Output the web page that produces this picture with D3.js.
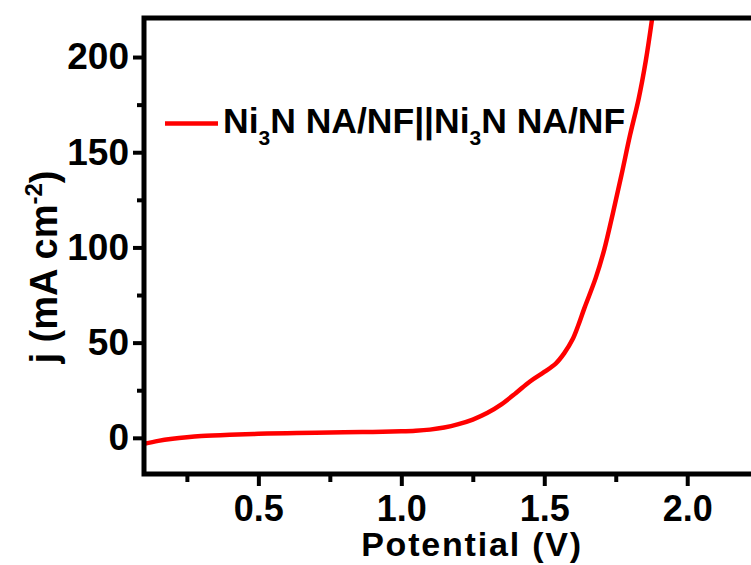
<!DOCTYPE html>
<html>
<head>
<meta charset="utf-8">
<script src="https://cdn.jsdelivr.net/npm/d3@7"></script>
<style>
  html, body { margin: 0; padding: 0; background: #fff; overflow: hidden; }
  svg { display: block; }
  text { font-family: "Liberation Sans", Arial, sans-serif; font-weight: bold; fill: #000; }
</style>
</head>
<body>
<svg id="chart" width="751" height="565"></svg>
<script>
// Polarization curve of the two-electrode Ni3N NA/NF || Ni3N NA/NF cell
const potential = [0.10, 0.15, 0.20, 0.25, 0.30, 0.40, 0.50, 0.60, 0.70, 0.80, 0.90, 1.00,
  1.05, 1.10, 1.15, 1.20, 1.25, 1.30, 1.35, 1.40, 1.45, 1.50, 1.54, 1.57, 1.60,
  1.62, 1.64, 1.68, 1.71, 1.74, 1.77, 1.80, 1.83, 1.855, 1.877];
const currentDensity = [-3.2, -1.6, -0.5, 0.3, 0.9, 1.6, 2.1, 2.4, 2.7, 2.9, 3.1, 3.4,
  3.7, 4.3, 5.4, 7.2, 9.6, 13.0, 17.6, 23.4, 29.6, 34.6, 39.0, 44.5, 52.0,
  59.5, 68.0, 84.0, 99.0, 118.0, 138.0, 159.0, 178.0, 198.0, 220.0];

const xMajorTicks = [0.5, 1.0, 1.5, 2.0];
const xMinorTicks = [0.25, 0.75, 1.25, 1.75, 2.25];
const yMajorTicks = [0, 50, 100, 150, 200];
const yMinorTicks = [25, 75, 125, 175];

const seriesName = ["Ni", "3", "N NA/NF||Ni", "3", "N NA/NF"];
const xTitle = "Potential (V)";

const svg = d3.select("#chart");
const plotLeft = 144, plotTop = 18, plotBottom = 474, plotRight = 773;

const x = d3.scaleLinear().domain([0.1, 2.3]).range([plotLeft, plotRight]);
const y = d3.scaleLinear().domain([-19, 220.5]).range([plotBottom, plotTop]);

const axisW = 5;

// clip for the curve
svg.append("defs").append("clipPath").attr("id", "plotClip")
  .append("rect").attr("x", plotLeft).attr("y", plotTop)
  .attr("width", plotRight - plotLeft).attr("height", plotBottom - plotTop);

// curve
const data = potential.map((v, i) => ({ v, j: currentDensity[i] }));
const line = d3.line().x(d => x(d.v)).y(d => y(d.j)).curve(d3.curveCatmullRom.alpha(0.5));
svg.append("path").datum(data)
  .attr("clip-path", "url(#plotClip)")
  .attr("d", line)
  .attr("fill", "none").attr("stroke", "#ff0000").attr("stroke-width", 4.5)
  .attr("stroke-linejoin", "round");

// x axis
const xAxis = d3.axisBottom(x).tickValues(xMajorTicks).tickFormat(d3.format(".1f"))
  .tickSize(12).tickSizeOuter(0).tickPadding(9);
const gx = svg.append("g").attr("transform", `translate(0,${plotBottom})`).call(xAxis);
gx.select(".domain").remove();
gx.selectAll(".tick line").attr("stroke", "#000").attr("stroke-width", 4);
gx.selectAll(".tick text").attr("font-size", 36).attr("font-family", "Liberation Sans, Arial, sans-serif").attr("font-weight", "bold");
const gxm = svg.append("g").attr("transform", `translate(0,${plotBottom})`)
  .call(d3.axisBottom(x).tickValues(xMinorTicks).tickFormat("").tickSize(8).tickSizeOuter(0));
gxm.select(".domain").remove();
gxm.selectAll(".tick line").attr("stroke", "#000").attr("stroke-width", 4);

// y axis
const yAxis = d3.axisLeft(y).tickValues(yMajorTicks).tickFormat(d3.format("d"))
  .tickSize(11).tickSizeOuter(0).tickPadding(4);
const gy = svg.append("g").attr("transform", `translate(${plotLeft},0)`).call(yAxis);
gy.select(".domain").remove();
gy.selectAll(".tick line").attr("stroke", "#000").attr("stroke-width", 4);
gy.selectAll(".tick text").attr("font-size", 37).attr("font-family", "Liberation Sans, Arial, sans-serif").attr("font-weight", "bold");
const gym = svg.append("g").attr("transform", `translate(${plotLeft},0)`)
  .call(d3.axisLeft(y).tickValues(yMinorTicks).tickFormat("").tickSize(7).tickSizeOuter(0));
gym.select(".domain").remove();
gym.selectAll(".tick line").attr("stroke", "#000").attr("stroke-width", 4);

// frame
svg.append("path")
  .attr("d", `M${plotLeft},${plotBottom}H${plotRight}V${plotTop}H${plotLeft}Z`)
  .attr("fill", "none").attr("stroke", "#000").attr("stroke-width", axisW)
  .attr("stroke-linejoin", "miter");

// axis titles
svg.append("text").attr("x", 472).attr("y", 556).attr("text-anchor", "middle")
  .attr("font-size", 34).attr("letter-spacing", 1.8).text(xTitle);

const yt = svg.append("text").attr("transform", "translate(57,267) rotate(-90)")
  .attr("text-anchor", "middle").attr("font-size", 38);
yt.append("tspan").text("j (mA cm");
yt.append("tspan").attr("font-size", 24).attr("dy", -15).text("-2");
yt.append("tspan").attr("dy", 15).text(")");

// legend
svg.append("line").attr("x1", 165).attr("x2", 218).attr("y1", 123.5).attr("y2", 123.5)
  .attr("stroke", "#ff0000").attr("stroke-width", 4.5);
const lt = svg.append("text").attr("x", 223).attr("y", 133).attr("font-size", 35.5);
seriesName.forEach((s, i) => {
  const sub = i % 2 === 1;
  lt.append("tspan")
    .attr("font-size", sub ? 21 : 35.5)
    .attr("dy", sub ? 12 : (i === 0 ? 0 : -12))
    .text(s);
});
</script>
</body>
</html>
